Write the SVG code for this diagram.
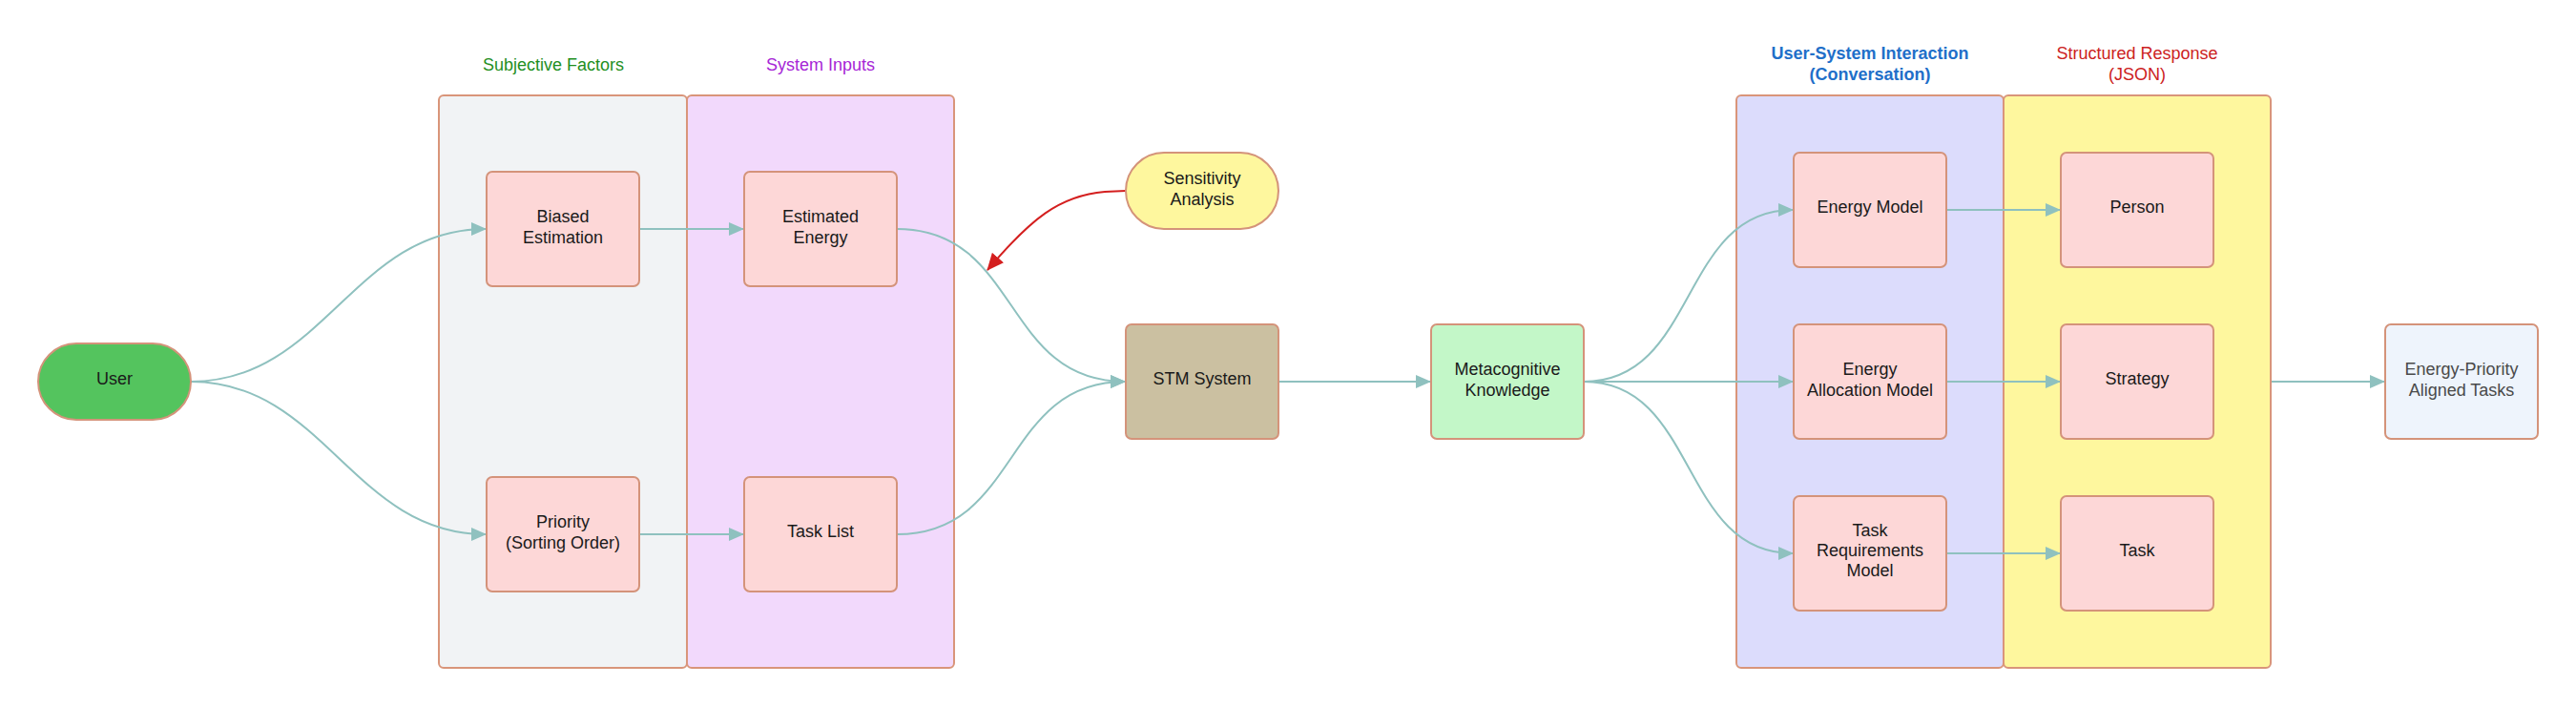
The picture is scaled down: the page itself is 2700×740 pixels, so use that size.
<svg xmlns="http://www.w3.org/2000/svg" width="2700" height="740" viewBox="0 0 2700 740">
<style>
text{font-family:"Liberation Sans",Arial,sans-serif;font-size:18px;fill:#1a1a1a;text-anchor:middle}
.cont{stroke:#d9957a;stroke-width:2}
.node{stroke:#d4937a;stroke-width:2}
.pink{fill:#fdd7d7}
.edge{fill:none;stroke:#8fc1bf;stroke-width:2}
.red{fill:none;stroke:#d41f1f;stroke-width:2}
.lbl{font-size:18px}
</style>
<defs>
<marker id="ah" markerUnits="userSpaceOnUse" markerWidth="16" markerHeight="14" refX="15" refY="7" orient="auto">
<path d="M0,0 L16,7 L0,14 z" fill="#8fc1bf"/>
</marker>
<marker id="ahr" markerUnits="userSpaceOnUse" markerWidth="18" markerHeight="16" refX="17" refY="8" orient="auto">
<path d="M0,0 L18,8 L0,16 z" fill="#d41f1f"/>
</marker>
</defs>
<rect width="2700" height="740" fill="#ffffff"/>

<g id="subjective-factors">
<rect class="cont" x="460" y="100" width="260" height="600" rx="5" fill="#f1f3f5"/>
<text class="lbl" x="580" y="74" style="fill:#1f8f1f">Subjective Factors</text>
</g>
<g id="system-inputs">
<rect class="cont" x="720" y="100" width="280" height="600" rx="5" fill="#f2d9fc"/>
<text class="lbl" x="860" y="74" style="fill:#a626d6">System Inputs</text>
</g>
<g id="user-system-interaction">
<rect class="cont" x="1820" y="100" width="280" height="600" rx="5" fill="#dcdcfc"/>
<text class="lbl" x="1960" y="62" style="fill:#1f6fc9;font-weight:bold">User-System Interaction</text>
<text class="lbl" x="1960" y="84" style="fill:#1f6fc9;font-weight:bold">(Conversation)</text>
</g>
<g id="structured-response">
<rect class="cont" x="2100" y="100" width="280" height="600" rx="5" fill="#fef79e"/>
<text class="lbl" x="2240" y="62" style="fill:#cc2222">Structured Response</text>
<text class="lbl" x="2240" y="84" style="fill:#cc2222">(JSON)</text>
</g>

<g id="connectors">
<path class="edge" d="M200,400 C340,400 370,240 509,240" marker-end="url(#ah)"/>
<path class="edge" d="M200,400 C340,400 370,560 509,560" marker-end="url(#ah)"/>
<path class="edge" d="M670,240 L779,240" marker-end="url(#ah)"/>
<path class="edge" d="M670,560 L779,560" marker-end="url(#ah)"/>
<path class="edge" d="M940,240 C1070,240 1050,400 1179,400" marker-end="url(#ah)"/>
<path class="edge" d="M940,560 C1070,560 1050,400 1179,400" marker-end="url(#ah)"/>
<path class="red" d="M1180,200 L1158,201 C1110,205 1080,230 1035,283" marker-end="url(#ahr)"/>
<path class="edge" d="M1340,400 L1499,400" marker-end="url(#ah)"/>
<path class="edge" d="M1660,400 C1780,400 1760,220 1879,220" marker-end="url(#ah)"/>
<path class="edge" d="M1660,400 L1879,400" marker-end="url(#ah)"/>
<path class="edge" d="M1660,400 C1780,400 1760,580 1879,580" marker-end="url(#ah)"/>
<path class="edge" d="M2040,220 L2159,220" marker-end="url(#ah)"/>
<path class="edge" d="M2040,400 L2159,400" marker-end="url(#ah)"/>
<path class="edge" d="M2040,580 L2159,580" marker-end="url(#ah)"/>
<path class="edge" d="M2381,400 L2499,400" marker-end="url(#ah)"/>
</g>

<g id="user">
<rect class="node" x="40" y="360" width="160" height="80" rx="40" fill="#54c45e"/>
<text x="120" y="403">User</text>
</g>
<g id="biased-estimation">
<rect class="node pink" x="510" y="180" width="160" height="120" rx="6"/>
<text x="590" y="233">Biased</text>
<text x="590" y="255">Estimation</text>
</g>
<g id="priority">
<rect class="node pink" x="510" y="500" width="160" height="120" rx="6"/>
<text x="590" y="553">Priority</text>
<text x="590" y="575">(Sorting Order)</text>
</g>
<g id="estimated-energy">
<rect class="node pink" x="780" y="180" width="160" height="120" rx="6"/>
<text x="860" y="233">Estimated</text>
<text x="860" y="255">Energy</text>
</g>
<g id="task-list">
<rect class="node pink" x="780" y="500" width="160" height="120" rx="6"/>
<text x="860" y="563">Task List</text>
</g>
<g id="sensitivity-analysis">
<rect class="node" x="1180" y="160" width="160" height="80" rx="40" fill="#fef79e" stroke="#d4a070"/>
<text x="1260" y="193">Sensitivity</text>
<text x="1260" y="215">Analysis</text>
</g>
<g id="stm-system">
<rect class="node" x="1180" y="340" width="160" height="120" rx="6" fill="#cbc0a1"/>
<text x="1260" y="403">STM System</text>
</g>
<g id="metacognitive-knowledge">
<rect class="node" x="1500" y="340" width="160" height="120" rx="6" fill="#c3f7c8"/>
<text x="1580" y="393">Metacognitive</text>
<text x="1580" y="415">Knowledge</text>
</g>
<g id="energy-model">
<rect class="node pink" x="1880" y="160" width="160" height="120" rx="6"/>
<text x="1960" y="223">Energy Model</text>
</g>
<g id="energy-allocation-model">
<rect class="node pink" x="1880" y="340" width="160" height="120" rx="6"/>
<text x="1960" y="393">Energy</text>
<text x="1960" y="415">Allocation Model</text>
</g>
<g id="task-requirements-model">
<rect class="node pink" x="1880" y="520" width="160" height="120" rx="6"/>
<text x="1960" y="562">Task</text>
<text x="1960" y="583">Requirements</text>
<text x="1960" y="604">Model</text>
</g>
<g id="person">
<rect class="node pink" x="2160" y="160" width="160" height="120" rx="6"/>
<text x="2240" y="223">Person</text>
</g>
<g id="strategy">
<rect class="node pink" x="2160" y="340" width="160" height="120" rx="6"/>
<text x="2240" y="403">Strategy</text>
</g>
<g id="task">
<rect class="node pink" x="2160" y="520" width="160" height="120" rx="6"/>
<text x="2240" y="583">Task</text>
</g>
<g id="energy-priority-aligned-tasks">
<rect class="node" x="2500" y="340" width="160" height="120" rx="6" fill="#eef4fc"/>
<text x="2580" y="393" style="fill:#4a4a4a">Energy-Priority</text>
<text x="2580" y="415" style="fill:#4a4a4a">Aligned Tasks</text>
</g>
</svg>
